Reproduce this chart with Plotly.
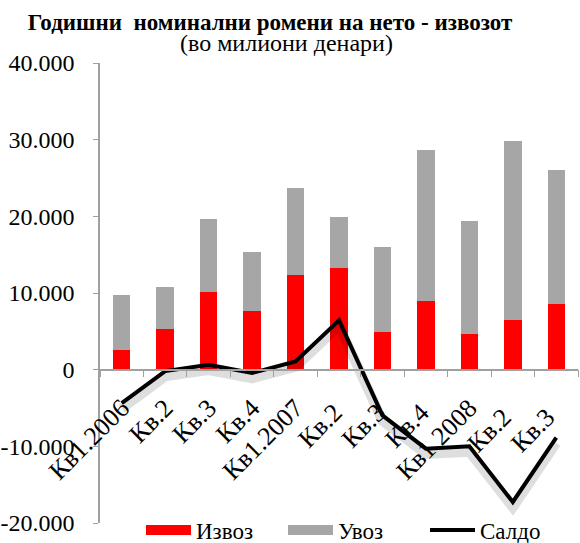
import plotly.graph_objects as go

categories = ["Кв1.2006", "Кв.2", "Кв.3", "Кв.4", "Кв1.2007", "Кв.2 ", "Кв.3 ", "Кв.4 ",
              "Кв1.2008", "Кв.2  ", "Кв.3  "]
izvoz = [2610, 5350, 10080, 7600, 12330, 13250, 4900, 8900, 4640, 6430, 8550]
uvoz = [7080, 5470, 9560, 7690, 11400, 6610, 11080, 19780, 14790, 23380, 17430]
saldo = [-4350, -180, 650, -440, 1080, 6430, -5960, -10300, -10000, -17260, -8870]

y_tickvals = [-20000, -10000, 0, 10000, 20000, 30000, 40000]
y_ticktext = ["-20.000", "-10.000", "0", "10.000", "20.000", "30.000", "40.000"]

FONT = "Liberation Serif"
RED, GRAY = "#FF0000", "#A6A6A6"
YMIN, YMAX = -20000, 40000
W, H = 580, 543
L, T = 100, 63
R = W - 578
B = H - 523
PH = H - T - B
PW = W - L - R

fig = go.Figure()
fig.add_trace(go.Bar(x=categories, y=izvoz, name="Извоз", marker_color=RED,
                     marker_line_width=0, showlegend=False, legendgroup="i"))
fig.add_trace(go.Bar(x=categories, y=uvoz, name="Увоз", marker_color=GRAY,
                     marker_line_width=0, showlegend=False, legendgroup="u"))
# soft shadow of the line (drawn on a slightly shifted overlay axis)
fig.add_trace(go.Scatter(x=categories, y=saldo, mode="lines", yaxis="y2",
                         line=dict(color="rgba(0,0,0,0.13)", width=10),
                         showlegend=False, hoverinfo="skip"))
fig.add_trace(go.Scatter(x=categories, y=saldo, name="Салдо", mode="lines",
                         line=dict(color="black", width=4), showlegend=False,
                         legendgroup="s"))
# legend entries (wide swatches as in the original)
for nm, col, wd, grp in [("Извоз", RED, 12, "i"), ("Увоз", GRAY, 12, "u"),
                         ("Салдо", "black", 4, "s")]:
    fig.add_trace(go.Scatter(x=[None], y=[None], name=nm, mode="lines",
                             line=dict(color=col, width=wd), legendgroup=grp))

shift = 700
fig.update_layout(
    width=W, height=H,
    margin=dict(l=L, r=R, t=T, b=B, autoexpand=False),
    paper_bgcolor="white", plot_bgcolor="white",
    barmode="stack", bargap=0.6,
    font=dict(family=FONT, color="black", size=22),
    title=dict(text="<b>Годишни  номинални ромени на нето - извозот</b>",
               x=270 / W, xanchor="center", xref="container",
               y=1 - 22 / H, yanchor="middle", yref="container",
               font=dict(family=FONT, size=23, color="black")),
    xaxis=dict(type="category", anchor="free", position=1 / 3,
               showline=True, linecolor="#A0A0A0", linewidth=1.5,
               ticks="outside", tickson="boundaries", ticklen=7, tickcolor="#A0A0A0",
               tickangle=-45, tickfont=dict(size=26), showgrid=False,
               ticklabelstandoff=12,
               automargin=False, zeroline=False),
    yaxis=dict(range=[YMIN, YMAX], tickvals=y_tickvals, ticktext=y_ticktext,
               showline=True, linecolor="#A0A0A0", linewidth=1.5,
               ticks="outside", ticklen=5, tickcolor="#A0A0A0",
               ticklabelstandoff=14,
               showgrid=False, zeroline=False, automargin=False,
               tickfont=dict(size=24)),
    yaxis2=dict(range=[YMIN + shift, YMAX + shift], overlaying="y", visible=False),
    legend=dict(orientation="h", x=(141 - L) / PW, xanchor="left",
                y=-(530 - 523) / PH, yanchor="middle",
                font=dict(size=23), traceorder="normal", entrywidth=82,
                entrywidthmode="pixels", bgcolor="rgba(0,0,0,0)",
                itemwidth=45, tracegroupgap=0),
    annotations=[dict(text="(во милиони денари)", x=(286 - L) / PW, xref="paper",
                      xanchor="center", y=1 + (T - 43) / PH, yref="paper",
                      yanchor="middle", showarrow=False,
                      font=dict(family=FONT, size=24, color="black"))],
)

fig.write_html("out.html", post_script="document.body.style.margin='0';",
               config={"displayModeBar": False})
